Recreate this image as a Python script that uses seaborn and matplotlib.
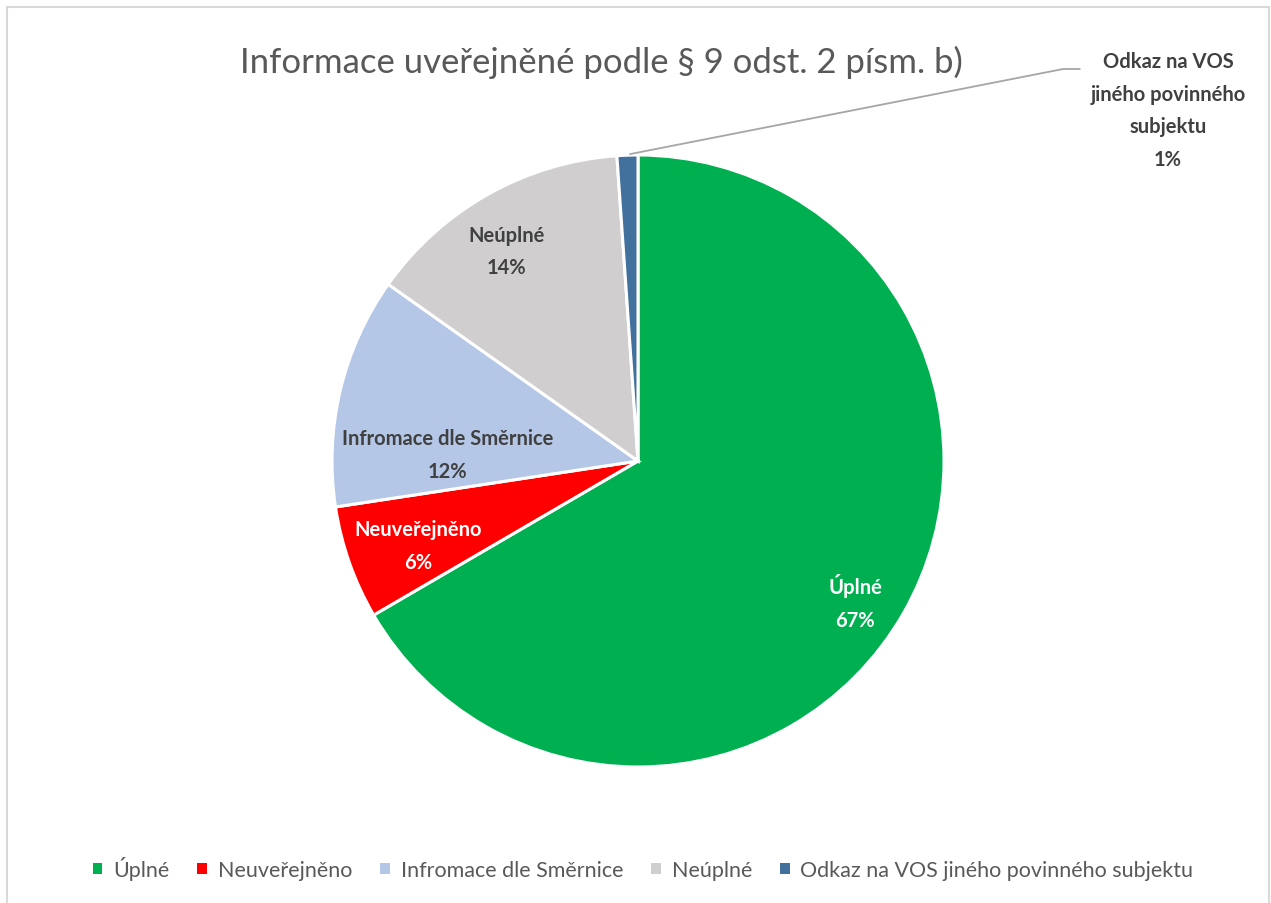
import matplotlib
matplotlib.use("Agg")
import matplotlib.pyplot as plt
import seaborn as sns
from matplotlib.patches import Patch, Rectangle

# data
categories = ["Úplné", "Neuveřejněno", "Infromace dle Směrnice", "Neúplné",
              "Odkaz na VOS jiného povinného subjektu"]
shares = [66.6, 6.0, 12.2, 14.1, 1.1]
colors = ["#00B050", "#FF0000", "#B4C7E7", "#D0CECE", "#41719C"]
slice_labels = ["Úplné", "Neuveřejněno", "Infromace dle Směrnice", "Neúplné",
                "Odkaz na VOS\njiného povinného\nsubjektu"]
label_colors = ["white", "white", "#404040", "#404040", "#404040"]
label_pos = [(0.709, -0.458), (-0.719, -0.275), (-0.621, 0.020), (-0.431, 0.686),
             (1.732, 1.147)]

sns.set_theme(style="white")
plt.rcParams["font.family"] = ["Lato", "DejaVu Sans"]

W, H = 1271, 904
fig = plt.figure(figsize=(W / 100, H / 100), dpi=100)
fig.patch.set_facecolor("white")

# light chart border
fig.patches.append(Rectangle((7 / W, -0.05), (1269 - 7) / W, 1.05 - 8 / H,
                             transform=fig.transFigure, fill=False,
                             edgecolor="#D9D9D9", linewidth=1.5))

cx, cy, r = 638, 462, 306
ax = fig.add_axes([(cx - r) / W, (H - cy - r) / H, 2 * r / W, 2 * r / H])
wedges, _ = ax.pie(shares, colors=colors, startangle=90, counterclock=False,
                   wedgeprops=dict(edgecolor="white", linewidth=2.2))
ax.set_xlim(-1, 1)
ax.set_ylim(-1, 1)
ax.axis("off")

for lab, val, col, (x, y) in zip(slice_labels, shares, label_colors, label_pos):
    ax.text(x, y, f"{lab}\n{val:.0f}%", ha="center", va="center", color=col,
            fontsize=14.5, fontweight="bold", linespacing=1.8, clip_on=False)

# leader line for the small slice
ax.plot([-0.026, 1.389, 1.444], [1.003, 1.281, 1.281], color="#A6A6A6",
        linewidth=1.3, clip_on=False)

fig.text(0.473, 1 - 62 / H, "Informace uveřejněné podle § 9 odst. 2 písm. b)",
         ha="center", va="center", fontsize=25, color="#595959")

handles = [Patch(facecolor=c, edgecolor="none") for c in colors]
fig.legend(handles, categories, loc="center", bbox_to_anchor=(0.506, 1 - 869 / H),
           ncol=5, frameon=False, fontsize=15.5, labelcolor="#595959",
           handlelength=0.45, handleheight=0.45, handletextpad=0.5, columnspacing=1.3)

fig.savefig("out.png", dpi=100)
